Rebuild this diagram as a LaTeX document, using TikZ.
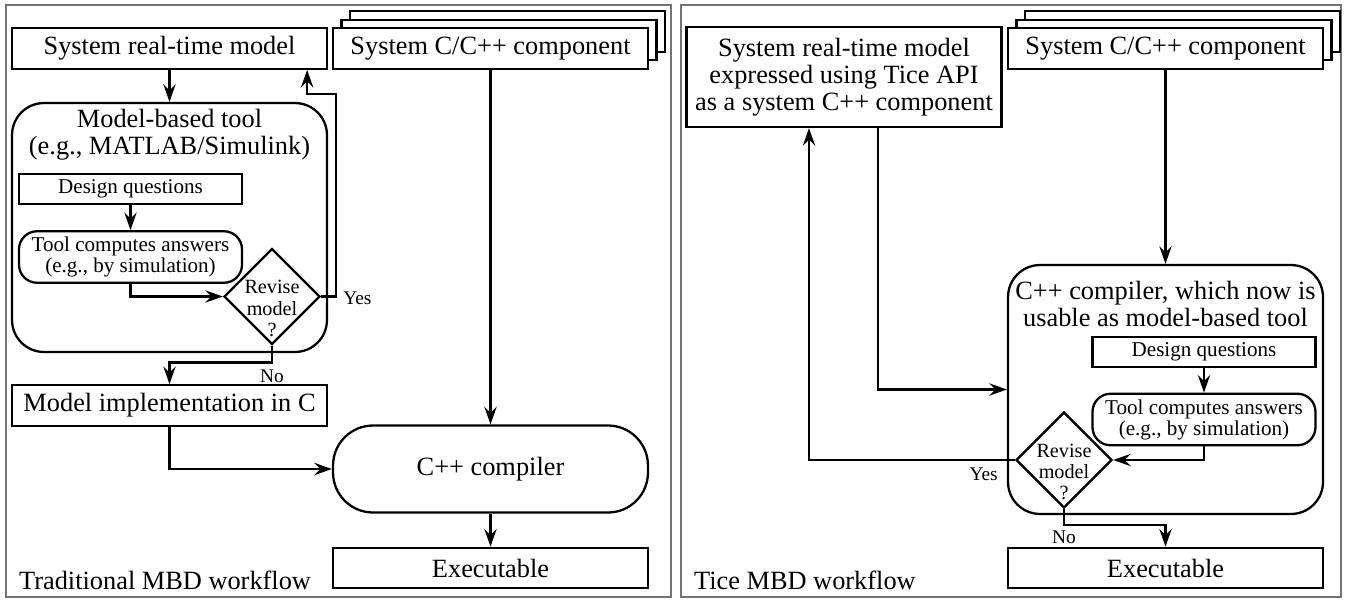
\documentclass[tikz,border=0pt]{standalone}
\usepackage{fontspec}
\setmainfont{Liberation Serif}
\usetikzlibrary{arrows.meta, positioning, shapes.geometric, shadows}

\newcommand{\fontmain}{\fontsize{15}{15.3}\selectfont}
\newcommand{\fontsmall}{\fontsize{12}{12}\selectfont}
\newcommand{\fontdia}{\fontsize{11.5}{12}\selectfont}
\newcommand{\fontlbl}{\fontsize{11}{12}\selectfont}

\begin{document}
\begin{tikzpicture}[x=0.02cm, y=-0.02cm, line width=1.3pt,
    every node/.style={inner sep=0pt},
    arr/.style={-{Stealth[length=10pt, width=7pt, inset=3.5pt]}},
    panel/.style={draw=black!55, line width=0.6pt},
    box/.style={draw, fill=white, minimum width=6.3cm, minimum height=0.81cm, font=\fontmain, align=center},
    stack/.style={box, copy shadow={shadow xshift=0.34cm, shadow yshift=0.34cm},
                  copy shadow={shadow xshift=0.17cm, shadow yshift=0.17cm}},
    toolbox/.style={draw, rounded corners=0.64cm, minimum width=6.3cm, minimum height=4.98cm},
    tooltitle/.style={font=\fontmain, align=center},
    smallbox/.style={draw, fill=white, minimum width=4.46cm, minimum height=0.6cm, font=\fontsmall},
    answer/.style={smallbox, rounded corners=0.36cm, minimum height=1.03cm, align=center},
    decision/.style={draw, diamond, aspect=1, minimum width=1.92cm, minimum height=1.92cm},
    dtext/.style={font=\fontdia, align=center},
    compiler/.style={draw, rounded corners=0.8cm, minimum width=6.3cm, minimum height=1.74cm, font=\fontmain},
    lbl/.style={font=\fontlbl},
    wfcaption/.style={font=\fontmain, anchor=base west}]
  \useasboundingbox (0,0) rectangle (1345,599);
  % Panels
  \draw[panel] (6,5) rectangle (671,597);
  \draw[panel] (681,5) rectangle (1341,597);

  % Nodes (traditional workflow)
  \node[box] (model) at (169.5,48.5) {System real-time model};
  \node[stack] (comp) at (490.5,48.5) {System C/C++ component};
  \node[toolbox] (tool) at (169.5,227.5) {};
  \node[tooltitle, below=0.12cm of tool.north] (tooltext) {Model-based tool\\(e.g., MATLAB/Simulink)};
  \node[smallbox] (design) at (130.5,189) {Design questions};
  \node[answer] (answers) at (130.5,257) {Tool computes answers\\(e.g., by simulation)};
  \node[decision] (revise) at (272,296.5) {};
  \node[dtext] (revisetext) at ([yshift=-0.24cm]revise.center) {Revise\\model\\?};
  \node[box] (impl) at (169.5,405.5) {Model implementation in C};
  \node[compiler] (cpp) at (490.5,469) {C++ compiler};
  \node[box] (exe) at (490.5,568) {Executable};
  \node[wfcaption] (tradcap) at (18,589) {Traditional MBD workflow};

  % Edges (traditional workflow)
  \draw[arr] (model) -- (tool);
  \draw[arr] (comp) -- (cpp);
  \draw[arr] (design) -- (answers);
  \draw[arr] (answers) |- (revise);
  \draw[arr] (revise.east) -- ++(15,0) node[lbl, anchor=west, xshift=0.12cm, yshift=-0.04cm] {Yes}
    |- ([yshift=-0.48cm]model.south east) -| ([xshift=-0.42cm]model.south east);
  \draw[arr] (revise.south) -- ++(0,17) node[lbl, anchor=north, yshift=-0.12cm] {No} -| (impl.north);
  \draw[arr] (impl) |- (cpp);
  \draw[arr] (cpp) -- (exe);

  % Nodes (Tice workflow)
  \node[box, minimum height=2cm] (tmodel) at (844,77)
    {System real-time model\\expressed using Tice API\\as a system C++ component};
  \node[stack] (tcomp) at (1165.5,48.5) {System C/C++ component};
  \node[toolbox] (tcpp) at (1165.5,389.5) {};
  \node[tooltitle, below=0.32cm of tcpp.north] (tcpptext) {C++ compiler, which now is\\usable as model-based tool};
  \node[smallbox] (tdesign) at (1204,352) {Design questions};
  \node[answer] (tanswers) at (1204,419.5) {Tool computes answers\\(e.g., by simulation)};
  \node[decision] (trevise) at (1064,460) {};
  \node[dtext] (trevisetext) at ([yshift=-0.24cm]trevise.center) {Revise\\model\\?};
  \node[box] (texe) at (1165.5,568) {Executable};
  \node[wfcaption] (ticecap) at (693,589) {Tice MBD workflow};

  % Edges (Tice workflow)
  \draw[arr] (tcomp) -- (tcpp);
  \draw[arr] ([xshift=0.68cm]tmodel.south) |- (tcpp);
  \draw[arr] (tdesign) -- (tanswers);
  \draw[arr] (tanswers) |- (trevise);
  \draw[arr] (trevise) -- (trevise -| tcpp.west)
    node[lbl, anchor=north east, xshift=-0.16cm, yshift=-0.14cm] {Yes}
    -| ([xshift=-0.7cm]tmodel.south);
  \draw[arr] (trevise.south) -- ++(0,16) node[lbl, anchor=north, yshift=-0.1cm] {No} -| (texe.north);
\end{tikzpicture}
\end{document}
